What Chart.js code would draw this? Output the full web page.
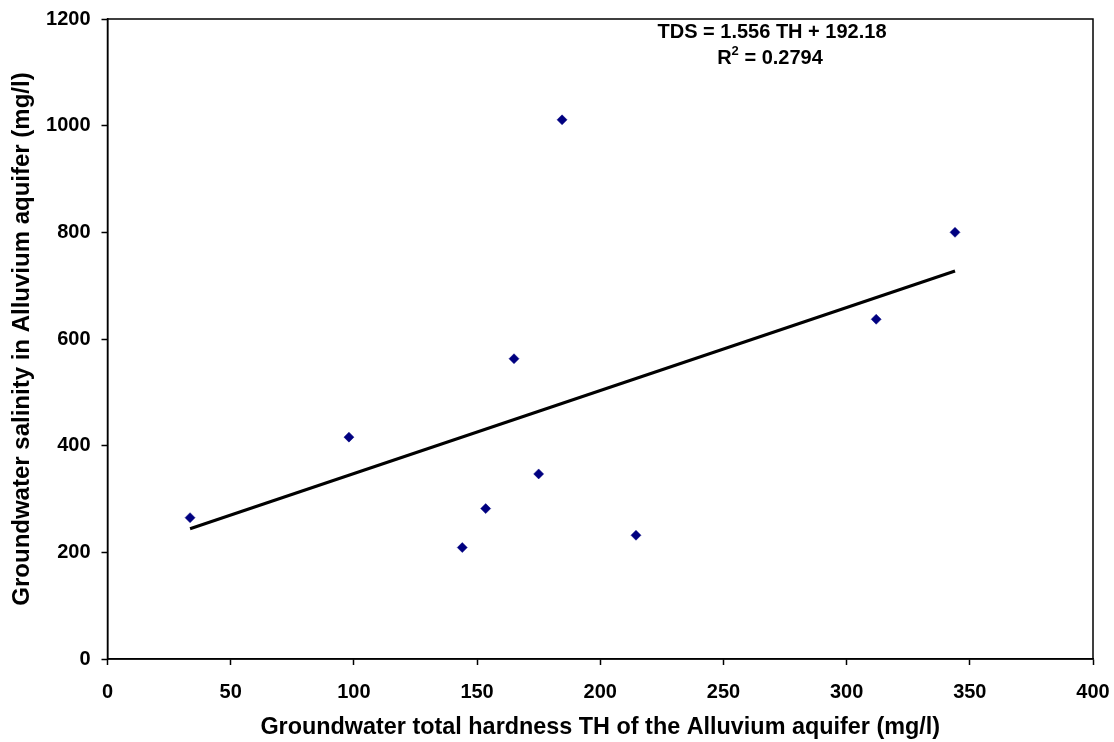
<!DOCTYPE html>
<html lang="en">
<head>
    <meta charset="UTF-8">
    <title>TDS vs Total Hardness - Alluvium aquifer</title>
    <script src="https://cdn.jsdelivr.net/npm/chart.js"></script>
    <style>
        body { margin: 0; background: #fff; }
        #wrap { width: 1114px; height: 742px; position: relative; }
    </style>
</head>
<body>
    <div id="wrap"><canvas id="chart"></canvas></div>

    <script>
        // values
        const thValues = [33.5, 98, 144, 153.5, 165, 175, 184.5, 214.5, 312, 344];
        const tdsValues = [265, 416, 209, 282, 563, 347, 1011, 232, 637, 800];

        // linear trendline as printed on the chart
        const slope = 1.556;
        const intercept = 192.18;
        const equationText = 'TDS = 1.556 TH + 192.18';
        const r2Value = '0.2794';

        const xTitle = 'Groundwater total hardness TH of the Alluvium aquifer (mg/l)';
        const yTitle = 'Groundwater salinity in Alluvium aquifer (mg/l)';

        const FONT = "'Liberation Sans', Arial, sans-serif";

        const points = thValues.map((x, i) => ({ x: x, y: tdsValues[i] }));
        const xMin = Math.min(...thValues);
        const xMax = Math.max(...thValues);
        const trend = [xMin, xMax].map(x => ({ x: x, y: slope * x + intercept }));

        // box round the plot area + equation text
        const framePlugin = {
            id: 'frame',
            afterDraw(chart) {
                const ctx = chart.ctx;
                const a = chart.chartArea;
                ctx.save();
                ctx.strokeStyle = '#000';
                ctx.lineWidth = 1.5;
                ctx.strokeRect(a.left, a.top, a.right - a.left, a.bottom - a.top);

                ctx.fillStyle = '#000';
                ctx.textAlign = 'center';
                ctx.textBaseline = 'middle';
                ctx.font = 'bold 20px ' + FONT;
                ctx.fillText(equationText, 772, 32);

                // R² line, superscript drawn smaller
                const left = 'R';
                const rest = ' = ' + r2Value;
                const wR = ctx.measureText(left).width;
                const wRest = ctx.measureText(rest).width;
                ctx.font = 'bold 13px ' + FONT;
                const wSup = ctx.measureText('2').width;
                const total = wR + wSup + wRest;
                let x = 770 - total / 2;
                ctx.textAlign = 'left';
                ctx.font = 'bold 20px ' + FONT;
                ctx.fillText(left, x, 58);
                ctx.font = 'bold 13px ' + FONT;
                ctx.fillText('2', x + wR, 51);
                ctx.font = 'bold 20px ' + FONT;
                ctx.fillText(rest, x + wR + wSup, 58);
                ctx.restore();
            }
        };

        new Chart(document.getElementById('chart'), {
            type: 'scatter',
            data: {
                datasets: [
                    {
                        label: 'TDS',
                        data: points,
                        pointStyle: 'rectRot',
                        pointRadius: 5,
                        pointBackgroundColor: '#000080',
                        pointBorderColor: '#000080',
                        pointBorderWidth: 0.5,
                        showLine: false
                    },
                    {
                        label: 'Trend',
                        data: trend,
                        showLine: true,
                        borderColor: '#000',
                        borderWidth: 3,
                        pointRadius: 0,
                        fill: false
                    }
                ]
            },
            options: {
                responsive: true,
                maintainAspectRatio: false,
                animation: false,
                layout: { padding: { top: 19, right: 21, left: 0, bottom: 0 } },
                plugins: {
                    legend: { display: false },
                    tooltip: { enabled: false }
                },
                scales: {
                    x: {
                        min: 0,
                        max: 400,
                        ticks: {
                            stepSize: 50,
                            color: '#000',
                            padding: 15,
                            maxRotation: 0,
                            callback: v => String(v),
                            font: { family: FONT, size: 20, weight: 'bold' }
                        },
                        grid: { drawOnChartArea: false, drawTicks: true, tickLength: 6, tickColor: '#000', tickWidth: 1.5 },
                        border: { display: true, color: '#000', width: 1.5 },
                        title: {
                            display: true,
                            text: xTitle,
                            color: '#000',
                            padding: { top: 0, bottom: 0 },
                            font: { family: FONT, size: 23.4, weight: 'bold' }
                        },
                        afterFit(scale) {
                            scale.height = 83;
                            scale.paddingLeft = 0;
                            scale.paddingRight = 0;
                        }
                    },
                    y: {
                        min: 0,
                        max: 1200,
                        ticks: {
                            stepSize: 200,
                            color: '#000',
                            padding: 11,
                            callback: v => String(v),
                            font: { family: FONT, size: 20, weight: 'bold' }
                        },
                        grid: { drawOnChartArea: false, drawTicks: true, tickLength: 6, tickColor: '#000', tickWidth: 1.5 },
                        border: { display: true, color: '#000', width: 1.5 },
                        title: {
                            display: true,
                            text: yTitle,
                            color: '#000',
                            padding: { top: 8, bottom: 0 },
                            font: { family: FONT, size: 24, weight: 'bold' }
                        },
                        afterFit(scale) {
                            scale.width = 107.5;
                            scale.paddingTop = 0;
                            scale.paddingBottom = 0;
                        }
                    }
                }
            },
            plugins: [framePlugin]
        });
    </script>
</body>
</html>
